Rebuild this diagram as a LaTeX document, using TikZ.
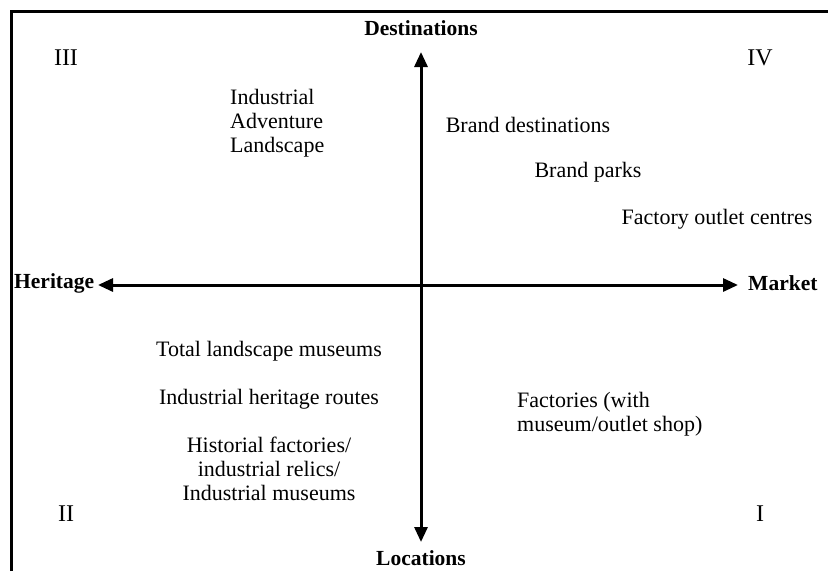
\documentclass[tikz,border=0pt]{standalone}
\usepackage{fontspec}
\setmainfont{Liberation Serif}
\usepackage{tikz}
\usetikzlibrary{positioning,arrows.meta}

\begin{document}
\begin{tikzpicture}[x=1pt, y=-1pt, node distance=48pt,
  every node/.style={font=\fontsize{22}{24}\selectfont, inner sep=0pt},
  axislabel/.style={font=\fontsize{21.5}{24}\selectfont\bfseries},
  quadrant/.style={font=\fontsize{24}{28}\selectfont},
  axis/.style={line width=3pt, {Triangle[length=15pt,width=13pt]}-{Triangle[length=15pt,width=13pt]}}]

\useasboundingbox (0,0) rectangle (828,571);

% Frame (top and left only)
\draw[line width=3pt] (11,571) -- (11,11) -- (828,11);

% Axis ends
\coordinate (top) at (421,52);
\coordinate (bottom) at (421,542);
\coordinate (left) at (98,285);
\coordinate (right) at (738,285);

% Axis labels
\node[axislabel] (dest) at (421,28) {Destinations};
\node[axislabel] (loc) at (421,558) {Locations};
\node[axislabel, anchor=west] (her) at (14,283) {Heritage};
\node[axislabel, anchor=west] (mkt) at (748,283) {Market};

% Quadrant numbers
\node[quadrant] (q3) at (66,58) {III};
\node[quadrant] (q4) at (760,58) {IV};
\node[quadrant] (q2) at (66,514) {II};
\node[quadrant] (q1) at (760,514) {I};

% Upper half
\node[align=left, anchor=west] (ial) at (230,123) {Industrial\\Adventure\\Landscape};
\node (bd) at (528,125) {Brand destinations};
\node (bp) at (588,172) {Brand parks};
\node (foc) at (717,219) {Factory outlet centres};

% Lower half
\node (tlm) at (269,351) {Total landscape museums};
\node (ihr) [below of=tlm] {Industrial heritage routes};
\node[align=center] (hf) [below of=ihr, node distance=70pt] {Historial factories/\\industrial relics/\\Industrial museums};
\node[align=left, anchor=west] (fac) at (517,414) {Factories (with\\museum/outlet shop)};

% Axes
\draw[axis] (top) -- (bottom);
\draw[axis] (left) -- (right);

\end{tikzpicture}
\end{document}
